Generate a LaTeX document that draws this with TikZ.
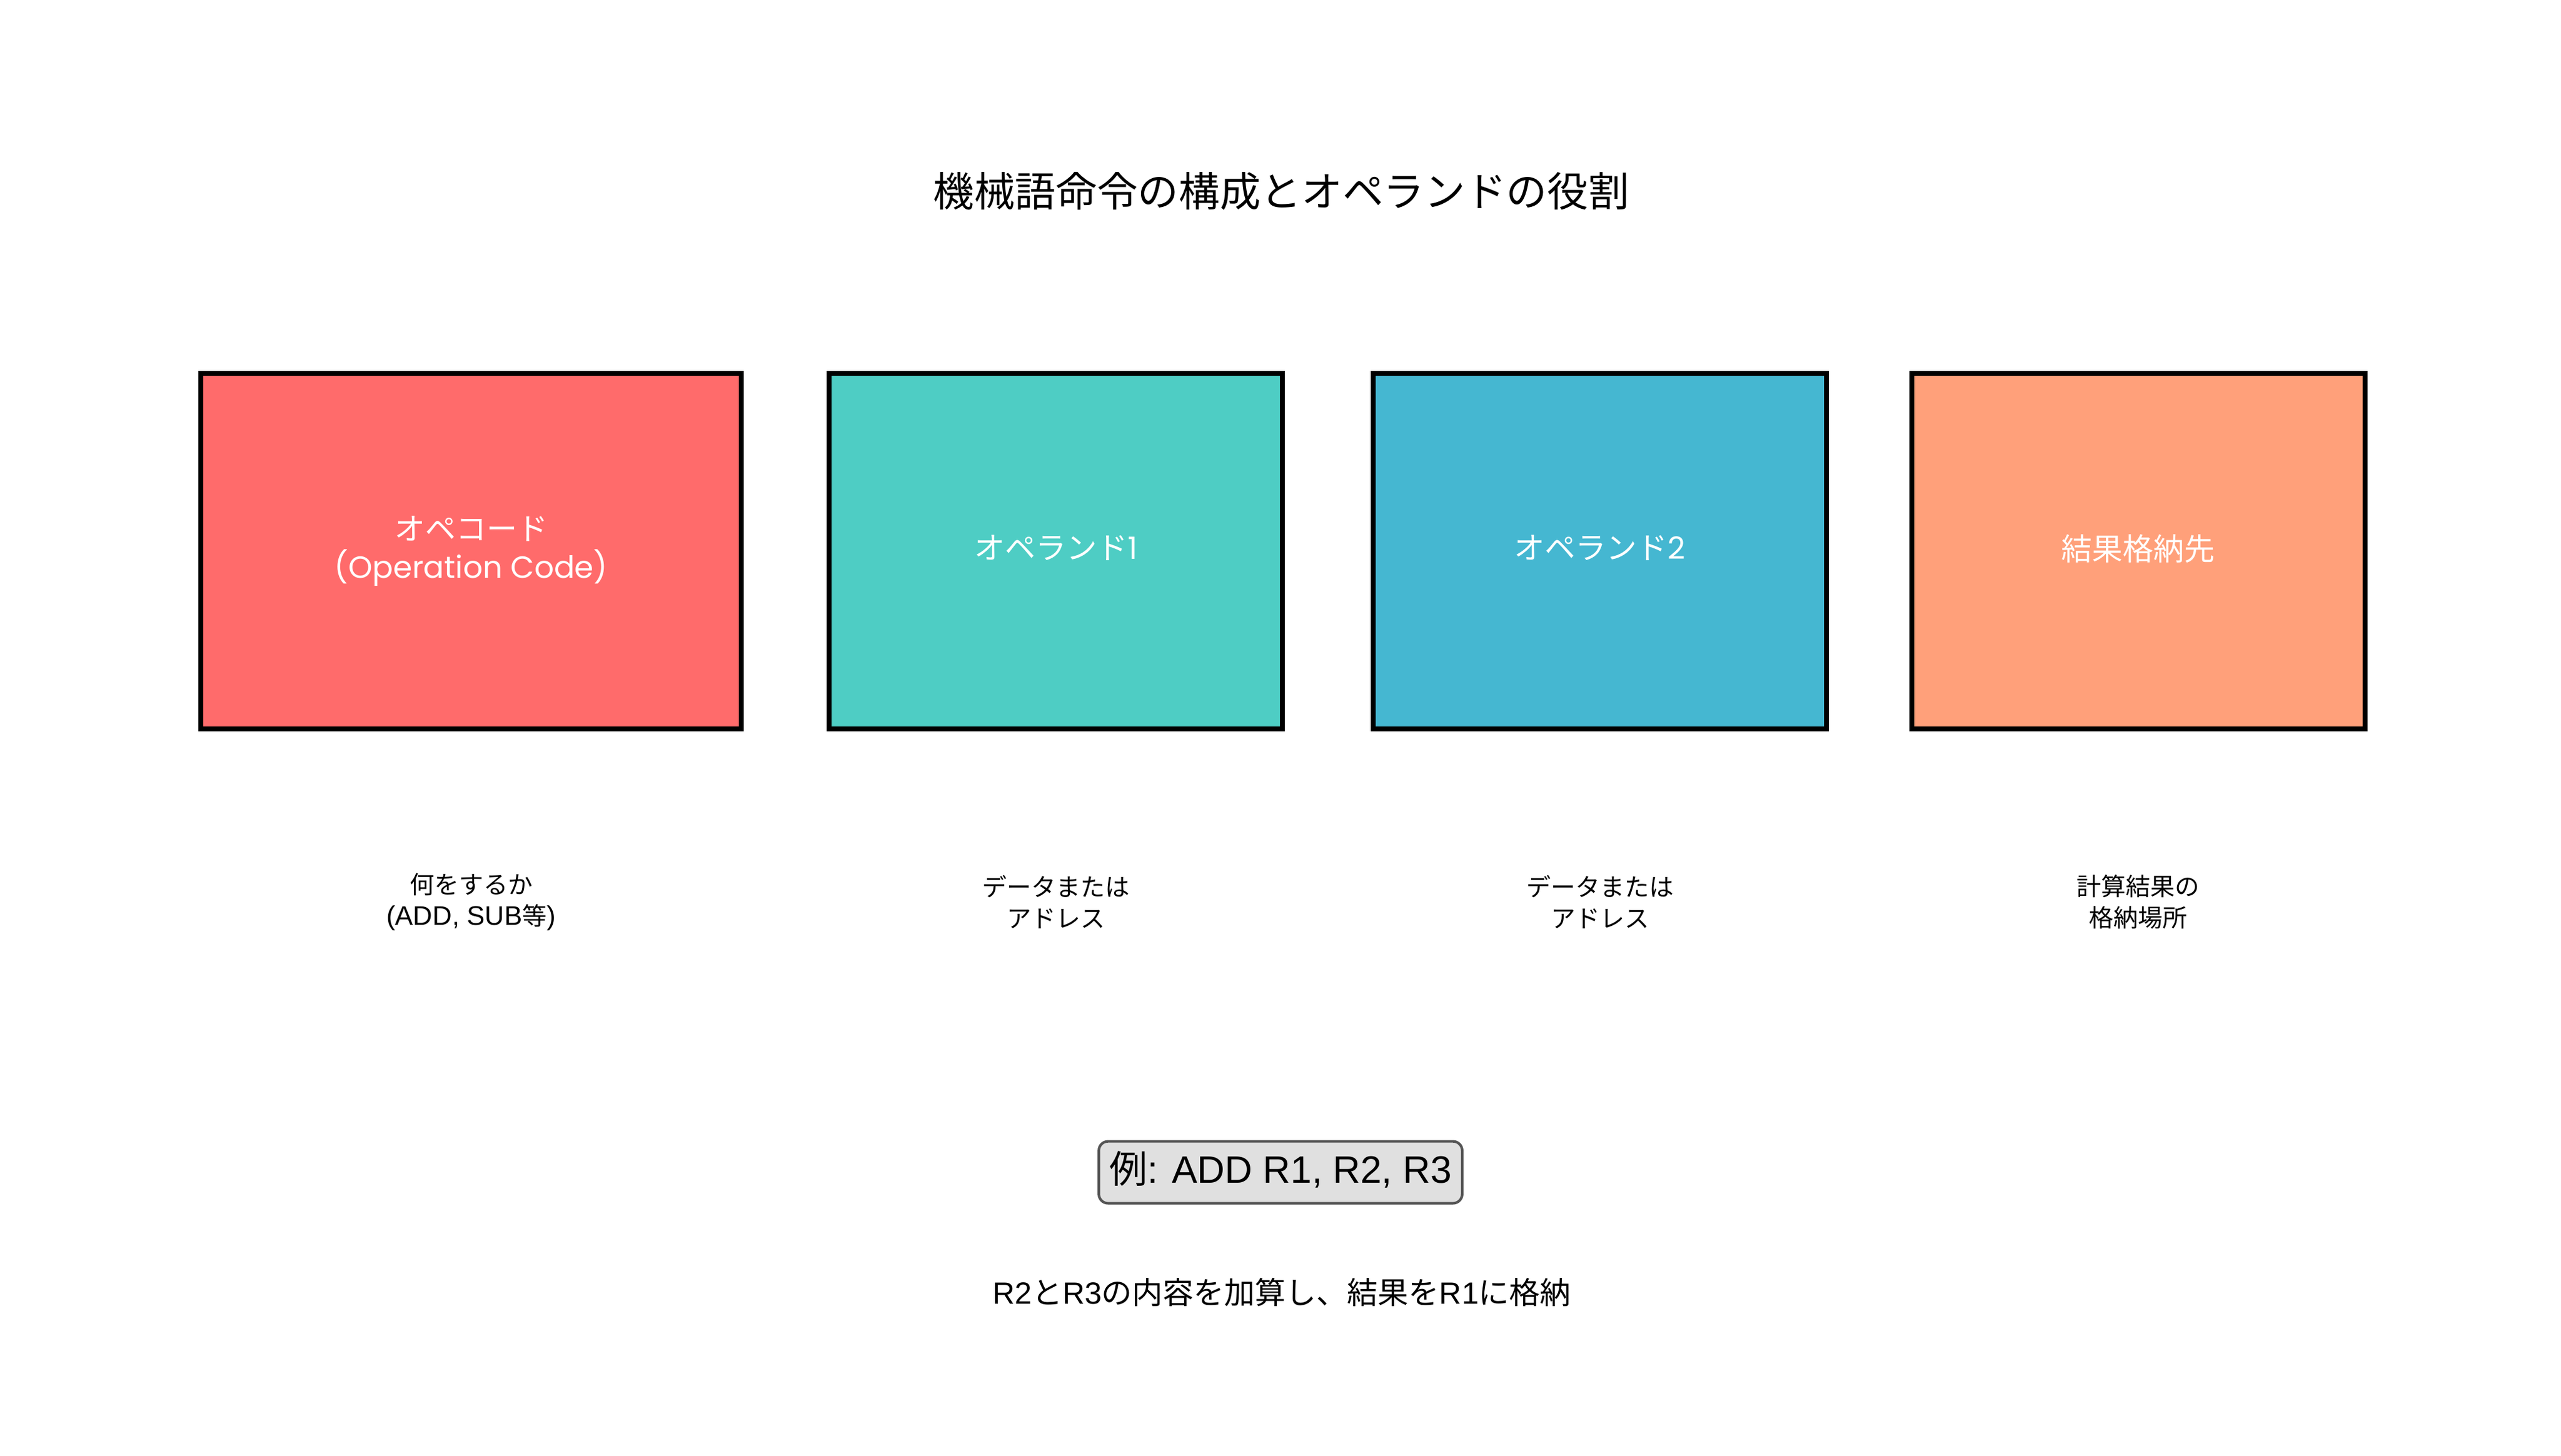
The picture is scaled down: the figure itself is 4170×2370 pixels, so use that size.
\documentclass[tikz,border=0pt]{standalone}
\usepackage{fontspec}
\setmainfont{Noto Sans CJK JP}
\newfontfamily\lat{Poppins}
\newfontfamily\ari{Liberation Sans}
\definecolor{cOp}{HTML}{FF6B6B}
\definecolor{cA}{HTML}{4ECDC4}
\definecolor{cB}{HTML}{45B7D1}
\definecolor{cC}{HTML}{FFA07A}
\definecolor{exfill}{HTML}{E0E0E0}
\definecolor{exline}{HTML}{555555}
\begin{document}
\begin{tikzpicture}[x=0.24pt,y=-0.24pt,
  partbox/.style={draw=black, line width=1.92pt, rectangle, inner sep=0pt,
    minimum height=139pt, text=white, align=center,
    font=\fontsize{12}{14.9}\selectfont},
  desc/.style={align=center, text=black, inner sep=0pt,
    font=\fontsize{9.6}{12.3}\selectfont},
  exbox/.style={draw=exline, line width=1pt, fill=exfill, rounded corners=3.6pt,
    minimum width=142pt, minimum height=24.2pt, inner sep=0pt,
    font=\fontsize{14.9}{18}\selectfont}]
\useasboundingbox (0,0) rectangle (4170,2370);
\fill[white] (0,0) rectangle (4170,2370);
\node[font=\fontsize{16.0}{20}\selectfont, inner sep=0pt] (title) at (2086,311) {機械語命令の構成とオペランドの役割};
\node[partbox, fill=cOp, minimum width=211.2pt] (op) at (767,897.5) {\raisebox{1.8pt}{オペコード}\\\raisebox{1.8pt}{{\lat (Operation Code)}}};
\node[partbox, fill=cA, minimum width=177.1pt] (o1) at (1719,897.5) {\raisebox{3pt}{オペランド{\lat 1}}};
\node[partbox, fill=cB, minimum width=177.1pt] (o2) at (2605,897.5) {\raisebox{3pt}{オペランド{\lat 2}}};
\node[partbox, fill=cC, minimum width=177.1pt] (res) at (3481.5,897.5) {\raisebox{3pt}{結果格納先}};
\node[desc] (dop) at (767,1469) {何をするか\\{\ari\fontsize{10.5}{12.3}\selectfont (ADD, SUB}等{\ari\fontsize{10.5}{12.3}\selectfont )}};
\node[desc] (do1) at (1719,1469) {データまたは\\アドレス};
\node[desc] (do2) at (2605,1469) {データまたは\\アドレス};
\node[desc] (dres) at (3481.5,1469) {計算結果の\\格納場所};
\node[exbox] (ex) at (2085,1909) {\raisebox{4.2pt}{例{\ari : ADD R1, R2, R3}}};
\node[font=\fontsize{12}{14}\selectfont, inner sep=0pt] (expl) at (2087,2104) {{\ari R2}と{\ari R3}の内容を加算し、結果を{\ari R1}に格納};
\end{tikzpicture}
\end{document}
